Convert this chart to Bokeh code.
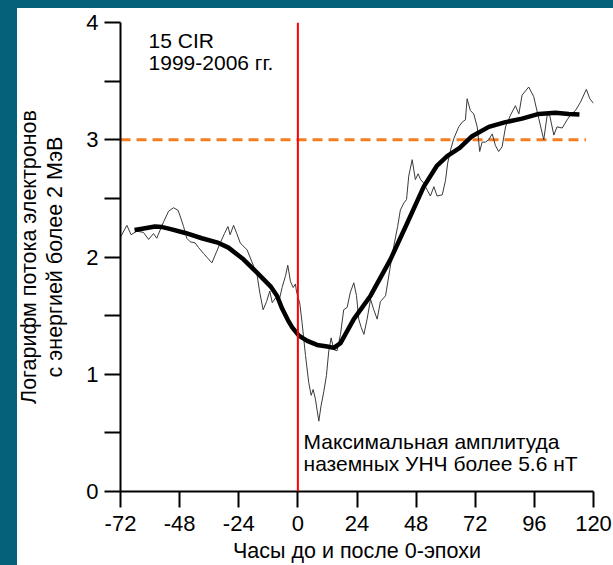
from bokeh.plotting import figure
from bokeh.models import FixedTicker, Label, Span
from bokeh.embed import file_html
from bokeh.resources import INLINE

# ---- data ----
raw_hours = [-72, -69.4, -67.7, -65.4, -62.7, -60.6, -58.6, -57.3, -54.5, -52.5, -50.5, -48.7,
             -47.8, -46.4, -45.1, -43.7, -41.7, -40.3, -38.3, -36.6, -34.9, -32.9, -31.5, -29.8,
             -28.4, -27.5, -26.1, -24.8, -23.4, -20.6, -18.5, -16.5, -15.5, -14.1, -12.7, -11.4,
             -10.4, -9.1, -7.7, -6.4, -5.0, -4.1, -3.0, -1.9, -1.0, -0.6, 0.8, 1.7, 3.1, 4.4,
             5.4, 6.2, 7.1, 8.5, 9.4, 10.5, 11.6, 12.5, 13.5, 14.6, 15.9, 17.3, 18.6, 20.0,
             21.3, 22.7, 23.8, 24.7, 25.7, 26.8, 28.1, 29.5, 30.8, 32.2, 33.5, 35.6, 37.3, 38.9,
             40.5, 41.6, 43.0, 44.1, 45.0, 46.4, 47.7, 48.8, 49.8, 51.1, 52.5, 53.8, 55.2, 56.5,
             58.6, 59.9, 60.8, 62.2, 63.3, 65.3, 66.7, 68.0, 68.7, 70.0, 71.4, 72.8, 73.8, 74.8,
             76.1, 77.5, 78.9, 80.2, 81.5, 82.9, 84.3, 86.3, 88.3, 89.7, 91.0, 93.7, 95.7, 97.8,
             99.8, 101.2, 102.2, 103.9, 105.2, 107.3, 109.3, 110.6, 112.7, 114.7, 117.1, 118.5, 120]
raw_flux = [2.17, 2.27, 2.19, 2.22, 2.21, 2.15, 2.20, 2.16, 2.30, 2.39, 2.42, 2.40,
            2.35, 2.26, 2.16, 2.13, 2.12, 2.08, 2.03, 1.99, 1.95, 2.05, 2.12, 2.20,
            2.26, 2.19, 2.27, 2.20, 2.12, 2.06, 1.95, 1.84, 1.70, 1.55, 1.62, 1.71,
            1.61, 1.65, 1.62, 1.74, 1.84, 1.93, 1.79, 1.74, 1.77, 1.71, 1.60, 1.44, 1.16, 0.93,
            0.82, 0.87, 0.79, 0.60, 0.73, 0.85, 0.99, 1.19, 1.31, 1.21, 1.20, 1.34, 1.55, 1.57,
            1.70, 1.78, 1.67, 1.47, 1.40, 1.34, 1.47, 1.64, 1.55, 1.47, 1.62, 1.67, 1.89, 2.09,
            2.26, 2.40, 2.46, 2.49, 2.69, 2.83, 2.66, 2.71, 2.66, 2.63, 2.57, 2.52, 2.60, 2.52,
            2.53, 2.65, 2.80, 2.93, 3.01, 3.11, 3.15, 3.17, 3.35, 3.25, 3.22, 3.11, 2.90, 2.98,
            2.98, 3.00, 3.05, 2.95, 2.90, 2.94, 3.11, 3.21, 3.29, 3.22, 3.38, 3.45, 3.37, 3.18,
            3.00, 3.21, 3.21, 3.04, 3.11, 3.10, 3.17, 3.21, 3.25, 3.32, 3.43, 3.35, 3.31]

smooth_hours = [-66.3, -62, -58, -55, -52, -45.7, -39, -32.2, -28.2, -22.1, -16.5, -11.1, -8.5,
                -6.4, -4.0, -2.3, 0.4, 3.8, 7.8, 11.9, 14.6, 17.3, 22.7, 29.5, 37.6, 44.4,
                51.1, 56.5, 60.6, 65.7, 70.7, 77.5, 84.3, 91.0, 97.8, 104.5, 110, 114.3]
smooth_flux = [2.23, 2.245, 2.26, 2.255, 2.24, 2.205, 2.16, 2.12, 2.08, 1.98, 1.865, 1.75, 1.67,
               1.56, 1.46, 1.40, 1.33, 1.285, 1.25, 1.237, 1.225, 1.265, 1.47, 1.67, 1.98, 2.29,
               2.60, 2.78, 2.86, 2.93, 3.03, 3.11, 3.15, 3.18, 3.22, 3.23, 3.22, 3.215]

x_ticks = [-72, -48, -24, 0, 24, 48, 72, 96, 120]
y_ticks = [0, 1, 2, 3, 4]
y_minor = [0.5, 1.5, 2.5, 3.5]
epoch_hour = 0
threshold_x = [-72, 117]
threshold_y = [3, 3]

FONT = "Liberation Sans"
TEAL = "#05607a"

p = figure(width=613, height=565, x_range=(-72, 120), y_range=(0, 4),
           output_backend="svg", toolbar_location=None,
           min_border_left=120, min_border_right=20, min_border_top=22, min_border_bottom=72,
           background_fill_color="white", border_fill_color="white", border_fill_alpha=0,
           styles={"background": "linear-gradient(to bottom, %s 8px, transparent 8px), "
                                 "linear-gradient(to right, %s 17px, white 17px)" % (TEAL, TEAL)})
p.outline_line_color = None
p.xgrid.visible = False
p.ygrid.visible = False

p.xaxis.ticker = FixedTicker(ticks=x_ticks)
p.yaxis.ticker = FixedTicker(ticks=y_ticks, minor_ticks=y_minor)
p.xaxis.major_label_overrides = {t: str(t) for t in x_ticks}
for ax in (p.xaxis, p.yaxis):
    ax.axis_line_color = "black"
    ax.axis_line_width = 2
    ax.major_tick_line_color = "black"
    ax.major_tick_line_width = 2
    ax.major_tick_in = 0
    ax.major_tick_out = 16
    ax.major_label_text_font = FONT
    ax.major_label_text_font_size = "22px"
    ax.major_label_text_color = "black"
    ax.axis_label_text_font = FONT
    ax.axis_label_text_font_size = "21.5px"
    ax.axis_label_text_font_style = "normal"
    ax.axis_label_text_color = "black"
p.yaxis.minor_tick_line_color = "black"
p.yaxis.minor_tick_line_width = 2
p.yaxis.minor_tick_in = 0
p.yaxis.minor_tick_out = 16
p.xaxis.minor_tick_line_color = None
p.xaxis.major_label_standoff = 8
p.yaxis.major_label_standoff = 6
p.yaxis.major_label_orientation = "horizontal"
p.xaxis.axis_label = "Часы до и после 0-эпохи"
p.xaxis.axis_label_standoff = 5
p.yaxis.axis_label = "Логарифм потока электронов\nс энергией более 2 МэВ"
p.yaxis.axis_label_standoff = 16
p.yaxis.axis_label_text_line_height = 1.1

p.line(threshold_x, threshold_y, line_color="#f57c20", line_width=3, line_dash="10 6")
p.add_layout(Span(location=epoch_hour, dimension="height", line_color="#ff0000", line_width=2))

p.line(raw_hours, raw_flux, line_color="#3a3a3a", line_width=1)
p.line(smooth_hours, smooth_flux, line_color="black", line_width=4.5, line_join="round")

for txt, xx, yy in [("15 CIR", -60.6, 3.85), ("1999-2006 гг.", -60.6, 3.66),
                    ("Максимальная амплитуда", 2.3, 0.425), ("наземных УНЧ более 5.6 нТ", 2.3, 0.238)]:
    p.add_layout(Label(x=xx, y=yy, text=txt, text_font=FONT, text_font_size="21px",
                       text_color="black", text_baseline="alphabetic", text_align="left"))

open("out.html", "w").write(file_html(p, INLINE))
